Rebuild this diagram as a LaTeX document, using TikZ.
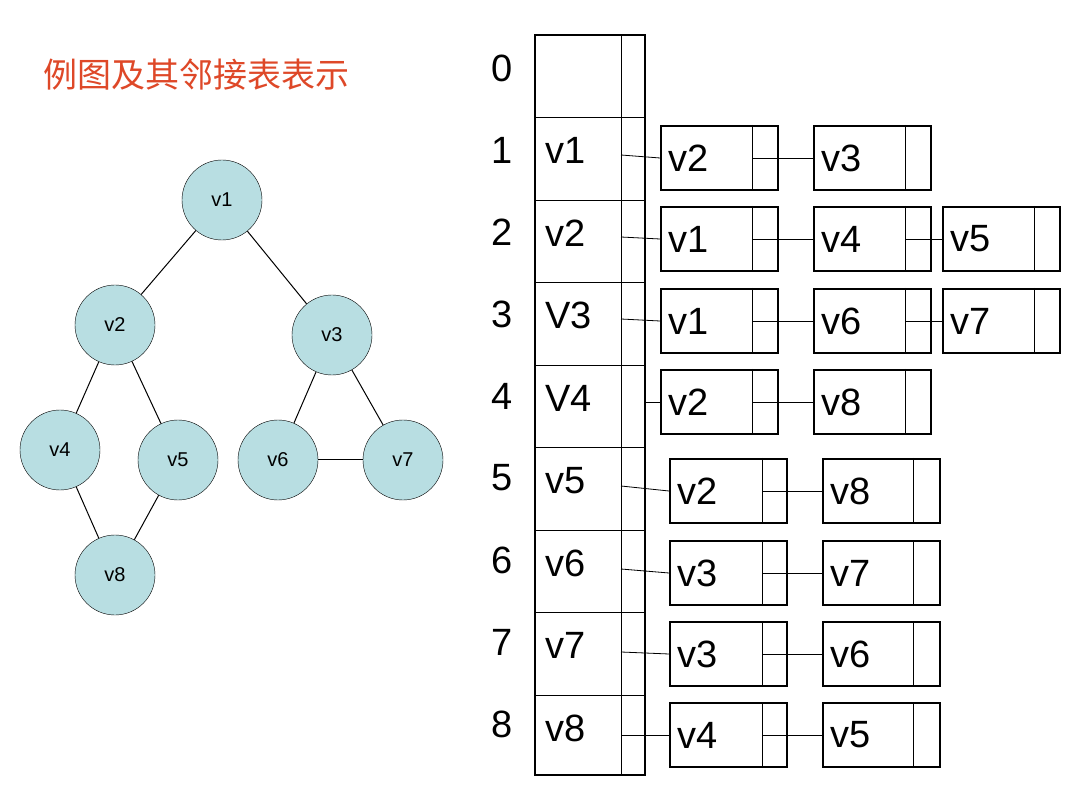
\documentclass[tikz,border=0pt]{standalone}
\usepackage{fontspec}
\setmainfont{Liberation Sans}
\newfontfamily\cjk{Noto Sans CJK SC}
\definecolor{vfill}{RGB}{184,222,226}
\definecolor{ttl}{RGB}{222,72,40}
\newcommand{\lnode}[5]{% name, x, y, text, divider offset
  \node[box] (#1) at (#2,#3) {};
  \node[anchor=west,big] at ([xshift=8pt]#1.west) {#4};
  \draw[thick] ([xshift=-#5pt]#1.north east) -- ([xshift=-#5pt]#1.south east);
  \coordinate (#1p) at ([xshift=-#5pt]#1.east);
}
\begin{document}
\begin{tikzpicture}[x=1pt,y=-1pt,
  vtx/.style={circle,draw,fill=vfill,minimum size=80pt,inner sep=0pt,font=\fontsize{20}{22}\selectfont},
  box/.style={rectangle,draw,line width=2pt,minimum width=117pt,minimum height=64pt,anchor=north west,inner sep=0pt},
  big/.style={font=\fontsize{38}{40}\selectfont,inner sep=0pt},
  ptr/.style={line width=0.8pt}]
\useasboundingbox (0,0) rectangle (1080,810);
\node[anchor=west,text=ttl,font=\cjk\fontsize{34}{36}\selectfont] (title) at (40,75) {例图及其邻接表表示};
% graph
\node[vtx] (v1) at (222,200) {v1};
\node[vtx] (v2) at (115,325) {v2};
\node[vtx] (v3) at (332,335) {v3};
\node[vtx] (v4) at (60,450) {v4};
\node[vtx] (v5) at (178,460) {v5};
\node[vtx] (v6) at (278,460) {v6};
\node[vtx] (v7) at (403,460) {v7};
\node[vtx] (v8) at (115,575) {v8};
\foreach \a/\b in {v1/v2,v1/v3,v2/v4,v2/v5,v3/v6,v3/v7,v6/v7,v4/v8,v5/v8}
  \draw[line width=1pt] (\a) -- (\b);
% array
\draw[line width=2pt] (535,35) rectangle (645,775);
\draw (621,35) -- (621,775);
\foreach \i/\t in {1/v1,2/v2,3/V3,4/V4,5/v5,6/v6,7/v7,8/v8}{
  \draw (535,{35+82.5*\i}) -- (645,{35+82.5*\i});
  \node[big,anchor=west] at (545,{68+82.5*\i}) {\t};
}
\foreach \i in {0,...,8}
  \node[big] at (502,{68+82*\i}) {\i};
\coordinate (a1) at (621,155);
\coordinate (a2) at (621,237);
\coordinate (a3) at (621,319);
\coordinate (a4) at (645,402);
\coordinate (a5) at (621,486);
\coordinate (a6) at (621,569);
\coordinate (a7) at (621,652);
\coordinate (a8) at (621,735);
% lists
\lnode{r1a}{660}{125}{v2}{27} \lnode{r1b}{813}{125}{v3}{27}
\lnode{r2a}{660}{206}{v1}{27} \lnode{r2b}{813}{206}{v4}{27} \lnode{r2c}{942}{206}{v5}{27}
\lnode{r3a}{660}{288}{v1}{27} \lnode{r3b}{813}{288}{v6}{27} \lnode{r3c}{942}{288}{v7}{27}
\lnode{r4a}{660}{369}{v2}{27} \lnode{r4b}{813}{369}{v8}{27}
\lnode{r5a}{669}{458}{v2}{26} \lnode{r5b}{822}{458}{v8}{28}
\lnode{r6a}{669}{540}{v3}{26} \lnode{r6b}{822}{540}{v7}{28}
\lnode{r7a}{669}{621}{v3}{26} \lnode{r7b}{822}{621}{v6}{28}
\lnode{r8a}{669}{702}{v4}{26} \lnode{r8b}{822}{702}{v5}{28}
\foreach \r in {1,...,8}
  \draw[ptr] (a\r) -- (r\r a.west);
\foreach \r in {1,...,8}
  \draw[ptr] (r\r ap) -- (r\r b.west);
\draw[ptr] (r2bp) -- (r2c.west);
\draw[ptr] (r3bp) -- (r3c.west);
\end{tikzpicture}
\end{document}
